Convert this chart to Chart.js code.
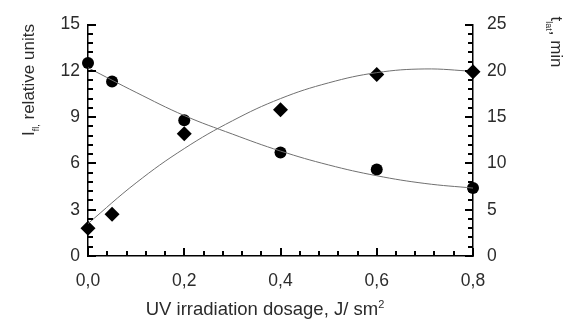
<!DOCTYPE html>
<html>
<head>
<meta charset="utf-8">
<script src="https://cdn.jsdelivr.net/npm/chart.js@4/dist/chart.umd.min.js"></script>
<style>
  html, body { margin: 0; padding: 0; background: #fff; }
  #wrap { width: 568px; height: 320px; position: relative; }
</style>
</head>
<body>
<div id="wrap"><canvas id="chart"></canvas></div>
<script>
// measured points
const dose = [0, 0.05, 0.2, 0.4, 0.6, 0.8];
const intensity = [12.5, 11.3, 8.8, 6.7, 5.6, 4.4];   // circles, left axis
const latTime = [3.0, 4.5, 13.2, 15.8, 19.6, 19.9];    // diamonds, right axis

// fitted curves
const fitDose = [0, 0.1, 0.2, 0.3, 0.4, 0.5, 0.6, 0.7, 0.8];
const intensityFit = [12.2, 10.6, 9.1, 7.9, 6.8, 5.9, 5.2, 4.7, 4.4];
const latTimeFit = [3.5, 7.9, 11.6, 14.6, 17.0, 18.7, 19.8, 20.2, 19.95];

// tick labels
const xTicks = [0, 0.2, 0.4, 0.6, 0.8];
const leftTicks = [0, 3, 6, 9, 12, 15];
const rightTicks = [0, 5, 10, 15, 20, 25];

const FONT = "'Liberation Sans', Arial, sans-serif";
const TXT = "#2b2b2b";

const pts = (xs, ys) => xs.map((x, i) => ({ x: x, y: ys[i] }));

// 4 minor ticks between each pair of labelled ones
function minorOf(major) {
  const out = [];
  for (let i = 0; i < major.length - 1; i++) {
    const step = (major[i + 1] - major[i]) / 5;
    for (let k = 1; k < 5; k++) out.push(major[i] + k * step);
  }
  return out;
}

// ticks pointing into the plot
const innerTicks = {
  id: "innerTicks",
  afterDraw(chart) {
    const ctx = chart.ctx;
    const a = chart.chartArea;
    const sx = chart.scales.x, sy = chart.scales.y, sr = chart.scales.y2;
    const t = 2;
    ctx.save();
    ctx.fillStyle = "#000";
    const xMark = (v, len) => ctx.fillRect(Math.round(sx.getPixelForValue(v)) - 1, a.bottom - len, t, len);
    const lMark = (v, len) => ctx.fillRect(a.left, Math.round(sy.getPixelForValue(v)) - 1, len, t);
    const rMark = (v, len) => ctx.fillRect(a.right - len, Math.round(sr.getPixelForValue(v)) - 1, len, t);
    xTicks.forEach(v => xMark(v, 8));
    minorOf(xTicks).forEach(v => xMark(v, 5));
    leftTicks.forEach(v => lMark(v, 8));
    minorOf(leftTicks).forEach(v => lMark(v, 5));
    rightTicks.forEach(v => rMark(v, 8));
    minorOf(rightTicks).forEach(v => rMark(v, 5));
    ctx.restore();
  }
};

// draw a run of text pieces, some of them as subscripts / superscripts
function drawRich(ctx, parts, cx, cy, angle) {
  ctx.save();
  ctx.translate(cx, cy);
  ctx.rotate(angle);
  ctx.fillStyle = TXT;
  ctx.textBaseline = "alphabetic";
  ctx.textAlign = "left";
  let w = 0;
  parts.forEach(p => { ctx.font = p.size + "px " + FONT; w += ctx.measureText(p.t).width; });
  let x = -w / 2;
  parts.forEach(p => {
    ctx.font = p.size + "px " + FONT;
    ctx.fillText(p.t, x, p.dy || 0);
    x += ctx.measureText(p.t).width;
  });
  ctx.restore();
}

const axisTitles = {
  id: "axisTitles",
  afterDraw(chart) {
    const ctx = chart.ctx;
    drawRich(ctx, [
      { t: "I", size: 17 },
      { t: "fl,", size: 9, dy: 5 },
      { t: " relative units", size: 17 }
    ], 34, 80, -Math.PI / 2);
    drawRich(ctx, [
      { t: "t", size: 17 },
      { t: "lat", size: 9, dy: 5 },
      { t: ", min", size: 17 }
    ], 551, 42, Math.PI / 2);
    drawRich(ctx, [
      { t: "UV irradiation dosage, J/ sm", size: 18.5 },
      { t: "2", size: 11, dy: -7 }
    ], 265, 315, 0);
  }
};

new Chart(document.getElementById("chart"), {
  data: {
    datasets: [
      {
        type: "line",
        data: pts(fitDose, intensityFit),
        yAxisID: "y",
        borderColor: "#707070",
        borderWidth: 1,
        pointRadius: 0,
        tension: 0.4,
        clip: false
      },
      {
        type: "line",
        data: pts(fitDose, latTimeFit),
        yAxisID: "y2",
        borderColor: "#707070",
        borderWidth: 1,
        pointRadius: 0,
        tension: 0.4,
        clip: false
      },
      {
        type: "scatter",
        data: pts(dose, intensity),
        yAxisID: "y",
        pointStyle: "circle",
        pointRadius: 6,
        backgroundColor: "#000",
        borderWidth: 0,
        clip: false
      },
      {
        type: "scatter",
        data: pts(dose, latTime),
        yAxisID: "y2",
        pointStyle: "rectRot",
        pointRadius: 7.5,
        backgroundColor: "#000",
        borderWidth: 0,
        clip: false
      }
    ]
  },
  options: {
    responsive: true,
    maintainAspectRatio: false,
    animation: false,
    events: [],
    layout: { padding: { top: 19.5, left: 0, right: 0, bottom: 0 } },
    plugins: { legend: { display: false }, tooltip: { enabled: false } },
    scales: {
      x: {
        type: "linear",
        min: 0,
        max: 0.8,
        grid: { display: false, drawTicks: false },
        border: { display: true, color: "#000", width: 1.5 },
        afterBuildTicks: s => { s.ticks = xTicks.map(v => ({ value: v })); },
        ticks: {
          autoSkip: false,
          maxRotation: 0,
          padding: 15,
          color: TXT,
          font: { family: FONT, size: 17.5 },
          callback: v => v.toFixed(1).replace(".", ",")
        },
        afterFit: s => { s.height = 64; }
      },
      y: {
        position: "left",
        min: 0,
        max: 15,
        grid: { display: false, drawTicks: false },
        border: { display: true, color: "#000", width: 1.5 },
        afterBuildTicks: s => { s.ticks = leftTicks.map(v => ({ value: v })); },
        ticks: {
          autoSkip: false,
          padding: 8,
          color: TXT,
          font: { family: FONT, size: 17.5 },
          callback: v => String(v)
        },
        afterFit: s => { s.width = 88; }
      },
      y2: {
        position: "right",
        min: 0,
        max: 25,
        grid: { display: false, drawTicks: false },
        border: { display: true, color: "#000", width: 1.5 },
        afterBuildTicks: s => { s.ticks = rightTicks.map(v => ({ value: v })); },
        ticks: {
          autoSkip: false,
          padding: 14,
          color: TXT,
          font: { family: FONT, size: 17.5 },
          callback: v => String(v)
        },
        afterFit: s => { s.width = 95; }
      }
    }
  },
  plugins: [innerTicks, axisTitles]
});
</script>
</body>
</html>
